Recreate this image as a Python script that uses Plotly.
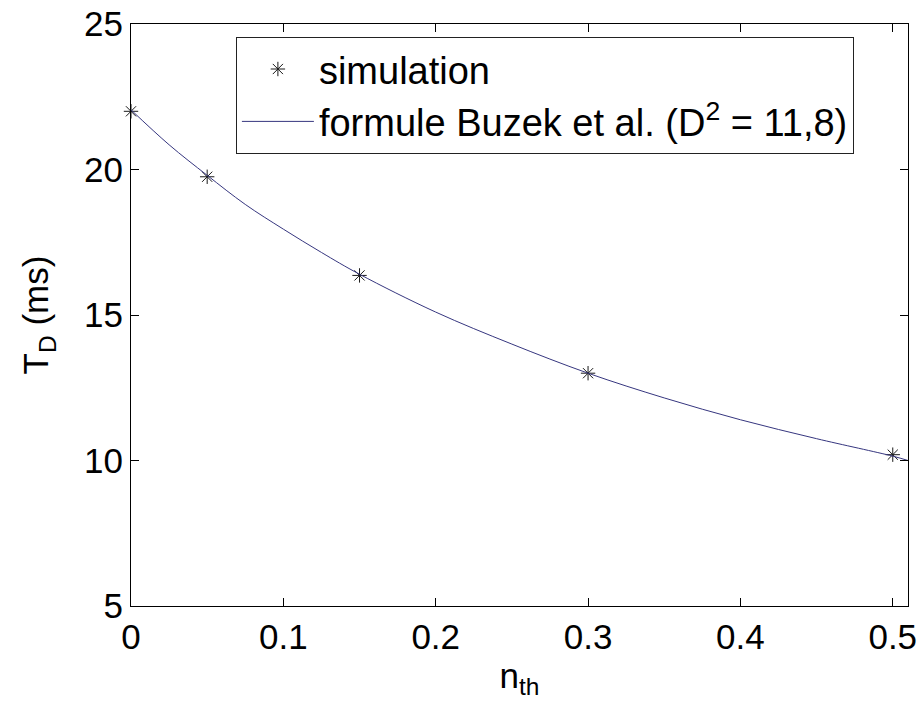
import plotly.graph_objects as go

# simulation points
sim_n = [0.0, 0.05, 0.15, 0.3, 0.5]
sim_T = [22.0, 19.75, 16.36, 13.0, 10.2]

# Buzek et al. formula curve
curve_n = [0.0, 0.025, 0.05, 0.075, 0.1, 0.125, 0.15, 0.2, 0.25, 0.3, 0.35, 0.4, 0.45, 0.5, 0.51]
curve_T = [22.05, 20.85, 19.8, 18.8, 17.95, 17.15, 16.4, 15.1, 14.0, 13.0, 12.15, 11.4, 10.75, 10.15, 10.0]

x_ticks = [0, 0.1, 0.2, 0.3, 0.4, 0.5]
x_ticklabels = ["0", "0.1", "0.2", "0.3", "0.4", "0.5"]
y_ticks = [5, 10, 15, 20, 25]

FONT = "Arial, Liberation Sans, Helvetica, sans-serif"
FS = 35

fig = go.Figure()
fig.add_trace(go.Scatter(
    x=sim_n, y=sim_T, mode="markers", name="simulation", legendgroup="a",
    cliponaxis=False,
    marker=dict(symbol="asterisk-open", size=12, color="#1a1a1a",
                line=dict(color="#1a1a1a", width=1)),
))
fig.add_trace(go.Scatter(
    x=curve_n, y=curve_T, mode="lines", legendgroup="b",
    name="formule Buzek et al. (D<sup>2</sup> = 11,8)",
    line=dict(color="#36367f", width=1, shape="spline"),
))

axis_common = dict(
    showline=True, linecolor="black", linewidth=1, mirror="ticks",
    ticks="inside", ticklen=8, tickcolor="black", tickwidth=1,
    showgrid=False, zeroline=False,
    tickfont=dict(family=FONT, size=FS, color="black"),
)

fig.update_xaxes(range=[0, 0.51], tickvals=x_ticks, ticktext=x_ticklabels,
                 title=dict(text="n<sub>th</sub>", font=dict(family=FONT, size=FS, color="black"),
                            standoff=8),
                 **axis_common)
fig.update_yaxes(range=[5, 25], tickvals=y_ticks,
                 title=dict(text="T<sub>D</sub> (ms)", font=dict(family=FONT, size=FS, color="black"),
                            standoff=24),
                 **axis_common)

fig.update_layout(
    width=924, height=718,
    margin=dict(l=131, r=16, t=24, b=112, autoexpand=False),
    paper_bgcolor="white", plot_bgcolor="white",
    showlegend=True,
    legend=dict(x=0.135, y=0.978, xanchor="left", yanchor="top",
                bgcolor="white", bordercolor="#222", borderwidth=1,
                font=dict(family=FONT, size=38, color="black"),
                itemwidth=72, tracegroupgap=0),
)

fig.write_html("out.html", config={"displayModeBar": False},
               post_script="document.body.style.margin='0';document.body.style.overflow='hidden';")
